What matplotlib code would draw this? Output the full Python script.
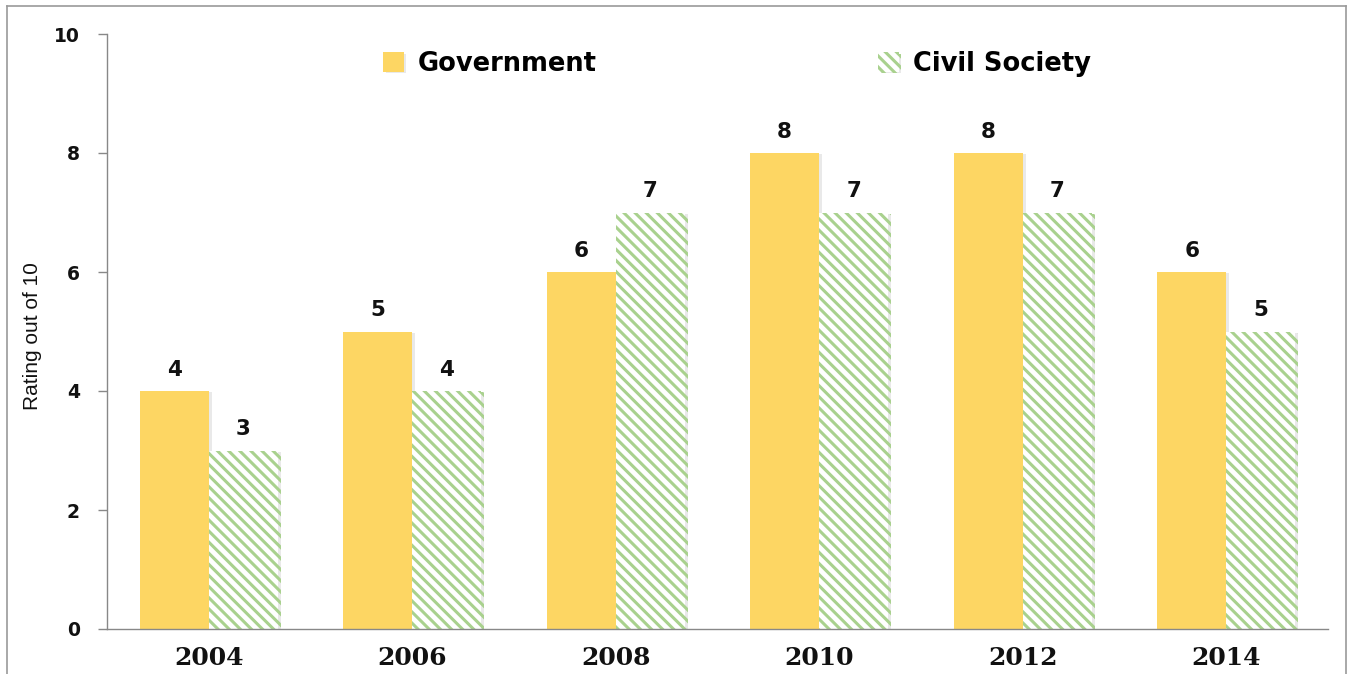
import matplotlib
matplotlib.use("Agg")
import matplotlib.pyplot as plt
import matplotlib.patheffects as pe
from matplotlib.lines import Line2D
import numpy as np

years = ["2004", "2006", "2008", "2010", "2012", "2014"]
government = [4, 5, 6, 8, 8, 6]
civil_society = [3, 4, 7, 7, 7, 5]
yticks = [0, 2, 4, 6, 8, 10]

plt.rcParams['hatch.linewidth'] = 2.2

W, H = 1349, 674
fig = plt.figure(figsize=(W / 100, H / 100), dpi=100)
ax = fig.add_axes([107 / W, 1 - 629 / H, (1328 - 107) / W, (629 - 34) / H])

gov_color = '#FDD663'
cs_color = '#A9D18E'
x = np.arange(len(years))
bw = 0.34
shadow = [pe.SimplePatchShadow(offset=(2, -1), shadow_rgbFace='#aaaaaa', alpha=0.25), pe.Normal()]

b1 = ax.bar(x - bw / 2, government, bw, color=gov_color, linewidth=0, label='Government')
b2 = ax.bar(x + bw / 2, civil_society, bw, facecolor='white', edgecolor=cs_color,
            hatch='\\\\\\', linewidth=0, label='Civil Society')
for b in list(b1) + list(b2):
    b.set_path_effects(shadow)

for xi, v in zip(x, government):
    ax.annotate(str(v), (xi - bw / 2, v), xytext=(0, 8), textcoords='offset points',
                ha='center', va='bottom', fontsize=15.5, fontweight='bold', color='#111111')
for xi, v in zip(x, civil_society):
    ax.annotate(str(v), (xi + bw / 2, v), xytext=(0, 8), textcoords='offset points',
                ha='center', va='bottom', fontsize=15.5, fontweight='bold', color='#111111')

ax.set_xlim(-0.5, len(years) - 0.5)
ax.set_ylim(0, 10)
ax.set_yticks(yticks)
ax.set_yticklabels([str(t) for t in yticks], fontsize=13.5, fontweight='bold', color='#111111')
ax.set_xticks(x)
ax.set_xticklabels(years, fontsize=18, fontweight='bold', family='DejaVu Serif', color='#111111')
ax.tick_params(axis='x', length=0, pad=12)
ax.tick_params(axis='y', length=6.5, width=1, color='#888888', pad=13)
for s in ['top', 'right']:
    ax.spines[s].set_visible(False)
for s in ['left', 'bottom']:
    ax.spines[s].set_color('#888888')
    ax.spines[s].set_linewidth(1)

ax.set_ylabel('Rating out of 10', fontsize=15, family=['Liberation Sans Narrow', 'Liberation Sans'],
              color='#111111')
ax.yaxis.set_label_coords((42 - 107) / (1328 - 107), (629 - 336) / (629 - 34))

leg_kw = dict(frameon=False, handlelength=0.8, handleheight=0.8,
              handletextpad=0.55, borderpad=0, borderaxespad=0,
              prop={'weight': 'bold', 'size': 18.5})
l1 = fig.legend([b1[0]], ['Government'], loc='center left',
                bbox_to_anchor=(383 / W, 1 - 64 / H), **leg_kw)
l2 = fig.legend([b2[0]], ['Civil Society'], loc='center left',
                bbox_to_anchor=(878 / W, 1 - 64 / H), **leg_kw)

# outer frame
frame_col = '#9a9a9a'
fig.add_artist(Line2D([7 / W, 7 / W], [0, 1 - 6 / H], transform=fig.transFigure, color=frame_col, lw=1.2))
fig.add_artist(Line2D([7 / W, 1346 / W], [1 - 6 / H, 1 - 6 / H], transform=fig.transFigure, color=frame_col, lw=1.2))
fig.add_artist(Line2D([1346 / W, 1346 / W], [0, 1 - 6 / H], transform=fig.transFigure, color=frame_col, lw=1.2))

fig.savefig('out.png', dpi=100)
